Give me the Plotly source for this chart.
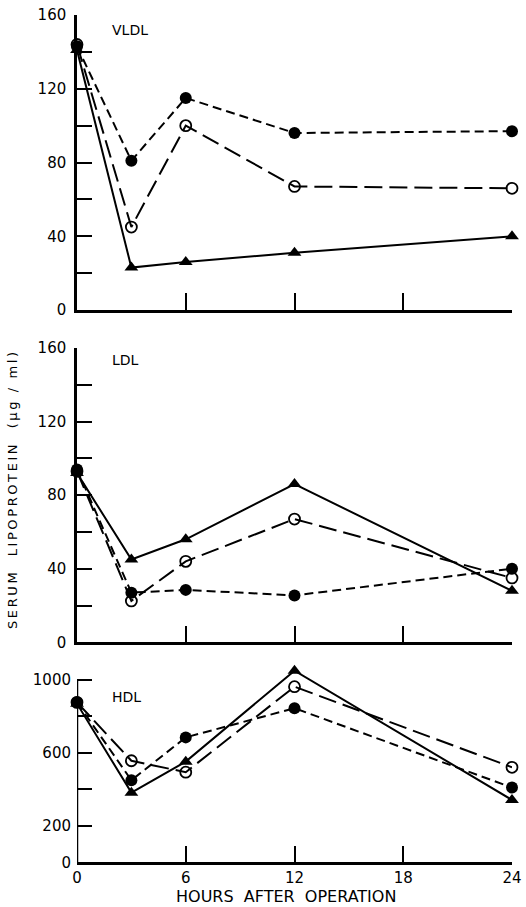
import plotly.graph_objects as go

hours = [0, 3, 6, 12, 24]

vldl_filled = [143, 81, 115, 96, 97]
vldl_open = [144, 45, 100, 67, 66]
vldl_tri = [141, 23, 26, 31, 40]

ldl_filled = [94, 27, 28.5, 25.5, 40]
ldl_open = [93, 22.5, 44, 67, 35]
ldl_tri = [92, 45, 56, 86, 28]

hdl_filled = [877, 450, 685, 845, 410]
hdl_open = [877, 557, 494, 963, 521]
hdl_tri = [870, 382, 552, 1051, 342]

x_ticks = [0, 6, 12, 18, 24]
panel_names = ["VLDL", "LDL", "HDL"]

FONT = "DejaVu Sans"
W, H = 526, 907
L, R = 77, 526 - 512

fig = go.Figure()

styles = [
    dict(symbol="circle", dash="9px,5px", size=12, lw=0),
    dict(symbol="circle-open", dash="18px,7px", size=11, lw=1.8),
    dict(symbol="triangle-up", dash="solid", size=12, lw=0),
]

panels = [
    (vldl_filled, vldl_open, vldl_tri),
    (ldl_filled, ldl_open, ldl_tri),
    (hdl_filled, hdl_open, hdl_tri),
]

for i, series in enumerate(panels):
    ax = "" if i == 0 else str(i + 1)
    for s, st in zip(series, styles):
        fig.add_trace(go.Scatter(
            x=hours, y=s, xaxis="x" + ax, yaxis="y" + ax,
            mode="lines+markers",
            line=dict(color="black", width=2, dash=st["dash"]),
            marker=dict(symbol=st["symbol"], size=st["size"], color="black",
                        line=dict(color="black", width=st["lw"])),
            cliponaxis=False, showlegend=False, hoverinfo="skip",
        ))

def px2dom(top, bottom):
    return [1 - bottom / H, 1 - top / H]

doms = [px2dom(15, 310), px2dom(348, 642.3), px2dom(669, 862.3)]
yranges = [[0, 160], [0, 160], [0, 1060]]
minor_dt = [20, 20, 200]

layout = dict(
    width=W, height=H,
    margin=dict(l=L, r=R, t=0, b=0),
    paper_bgcolor="white", plot_bgcolor="white",
    font=dict(family=FONT, color="black", size=15),
    showlegend=False,
)

for i in range(3):
    ax = "" if i == 0 else str(i + 1)
    layout["xaxis" + ax] = dict(
        domain=[0, 1], anchor="y" + ax, range=[0, 24],
        tickvals=x_ticks[1:], ticks="inside", ticklen=17, tickwidth=2,
        tickcolor="black", showline=True, linecolor="black", linewidth=2.5,
        showgrid=False, zeroline=False,
        showticklabels=(i == 2), automargin=False, ticklabeloverflow="allow",
        tickfont=dict(size=15, family=FONT),
    )
    if i == 2:
        layout["xaxis" + ax]["tickvals"] = x_ticks
        layout["xaxis" + ax]["ticktext"] = [str(v) for v in x_ticks]
    yax = dict(
        domain=doms[i], anchor="x" + ax, range=yranges[i],
        tick0=0, dtick=40,
        ticks="inside", ticklen=15, tickwidth=2, tickcolor="black",
        showline=(i != 2), linecolor="black", linewidth=2.5,
        showgrid=False, zeroline=False, automargin=False,
        ticklabeloverflow="allow",
        tickfont=dict(size=15, family=FONT), ticklabelstandoff=5,
        minor=dict(dtick=minor_dt[i], ticks="inside", ticklen=15,
                   tickwidth=2, tickcolor="black", showgrid=False),
    )
    if i == 2:
        yax.pop("dtick")
        yax.pop("tick0")
        yax["tickvals"] = [0, 200, 600, 1000]
        yax["minor"] = dict(tickvals=[400, 800], ticks="inside", ticklen=15,
                            tickwidth=2, tickcolor="black", showgrid=False)
    layout["yaxis" + ax] = yax

fig.update_layout(**layout)

# y axis line of HDL panel only up to 1000
fig.add_shape(type="line", xref="x3", yref="y3", x0=0, x1=0, y0=0, y1=1000,
              line=dict(color="black", width=2.5))

PW = W - L - R

def xp(px):
    return (px - L) / PW

def yp(px):
    return 1 - px / H

label_y = [30, 360, 697]
for name, ly in zip(panel_names, label_y):
    fig.add_annotation(text=name, xref="paper", yref="paper", x=xp(110),
                       y=yp(ly), xanchor="left", yanchor="middle", showarrow=False,
                       font=dict(size=14, family=FONT))

ytitle = "\u2009".join("SERUM  LIPOPROTEIN  (μg / ml)")
fig.add_annotation(text=ytitle, xref="paper", yref="paper",
                   x=xp(12), y=yp(491), textangle=-90,
                   xanchor="center", yanchor="middle", showarrow=False,
                   font=dict(size=13, family=FONT))

fig.add_annotation(text="HOURS  AFTER  OPERATION", xref="paper", yref="paper",
                   x=xp(286), y=yp(896),
                   xanchor="center", yanchor="middle", showarrow=False,
                   font=dict(size=16, family=FONT))

fig.write_html("out.html", config={"displayModeBar": False},
               post_script="document.body.style.margin='0px';")
